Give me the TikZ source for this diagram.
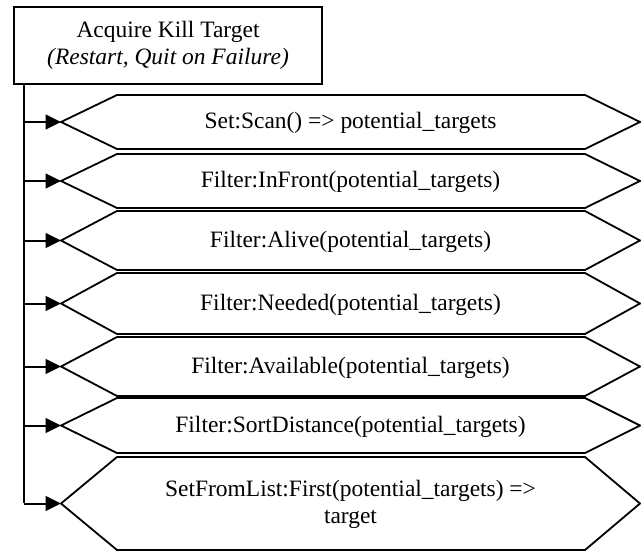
\documentclass[tikz,border=0pt]{standalone}
\usepackage{fontspec}
\setmainfont{Liberation Serif}
\usetikzlibrary{arrows.meta}

\tikzset{
  taskbox/.style={draw, line width=1.5pt, minimum width=231pt, minimum height=57.75pt, align=center, inner sep=0.75pt},
  hexline/.style={line width=1.35pt, line join=miter},
  optext/.style={inner sep=0.75pt, align=center},
  feed/.style={line width=1.5pt, -{Triangle[length=11.5pt,width=11pt]}}
}

\begin{document}
\begin{tikzpicture}[x=0.75pt,y=0.75pt,yscale=-1,xscale=1,font=\fontsize{17.6}{20}\selectfont]
\useasboundingbox (0,0) rectangle (641,552);

% Task box
\node [taskbox] (task) at (168,45.5) {Acquire Kill Target\\\textit{(Restart, Quit on Failure)}};

% Bar down the left
\coordinate (bartop) at (24,84);
\coordinate (barend) at (24,503);
\draw [line width=1.5pt] (bartop) -- (barend);

% Steps: number / top / bottom / text
\foreach \n/\t/\b/\txt in {
  1/95/149/{Set:Scan() => potential\_targets},
  2/154/208/{Filter:InFront(potential\_targets)},
  3/211/270/{Filter:Alive(potential\_targets)},
  4/273/334/{Filter:Needed(potential\_targets)},
  5/337/396/{Filter:Available(potential\_targets)},
  6/398/453/{Filter:SortDistance(potential\_targets)},
  7/457/550/{SetFromList:First(potential\_targets) =>\\target}}{
  %Shape: Hexagon
  \draw [hexline] (61,{(\t+\b)/2}) coordinate (tip\n) -- (117,\t) -- (585,\t) -- (640,{(\t+\b)/2}) -- (585,\b) -- (117,\b) -- cycle ;
  % Text Node
  \node [optext] (op\n) at (350.5,{(\t+\b)/2+1}) {\txt};
  % Arrow
  \draw [feed] (tip\n -| bartop) -- (tip\n);
}

\end{tikzpicture}
\end{document}
